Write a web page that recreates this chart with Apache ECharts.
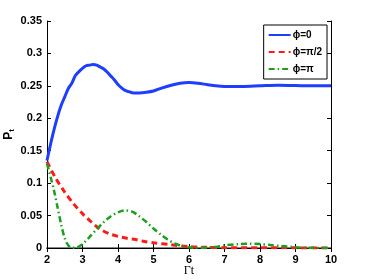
<!DOCTYPE html>
<html><head><meta charset="utf-8">
<script src="https://cdn.jsdelivr.net/npm/echarts@6/dist/echarts.min.js"></script>
<style>html,body{margin:0;padding:0;background:#fff}#c{width:366px;height:280px}</style>
</head><body><div id="c"></div>
<script>
const xTicks = [2,3,4,5,6,7,8,9,10];
const yTicks = [0,0.05,0.1,0.15,0.2,0.25,0.3,0.35];
const phi0 = [[2,0.135],[2.1,0.16],[2.2,0.183],[2.3,0.203],[2.4,0.22],[2.5,0.233],[2.6,0.246],[2.7,0.254],[2.8,0.266],[2.9,0.272],[3.0,0.277],[3.1,0.281],[3.2,0.282],[3.3,0.283],[3.4,0.282],[3.5,0.279],[3.6,0.276],[3.7,0.271],[3.8,0.265],[3.9,0.259],[4.0,0.252],[4.1,0.247],[4.2,0.243],[4.3,0.241],[4.4,0.2395],[4.5,0.239],[4.6,0.239],[4.8,0.240],[5.0,0.242],[5.25,0.247],[5.5,0.251],[5.75,0.254],[6.0,0.255],[6.25,0.254],[6.5,0.252],[6.75,0.250],[7.0,0.249],[7.5,0.249],[8.0,0.250],[8.5,0.251],[9.0,0.2505],[9.5,0.250],[10,0.250]];
const phiHalf = [[2,0.133],[2.25,0.107],[2.5,0.086],[2.75,0.068],[3.0,0.053],[3.25,0.040],[3.5,0.029],[3.75,0.022],[4.0,0.018],[4.25,0.015],[4.5,0.013],[4.75,0.010],[5.0,0.008],[5.5,0.005],[6.0,0.002],[6.5,0.001],[7.0,0.0005],[8.0,0.0003],[9.0,0.0002],[10,0.0001]];
const phiPi = [[2,0.13],[2.1,0.11],[2.2,0.088],[2.3,0.062],[2.4,0.036],[2.5,0.015],[2.6,0.004],[2.7,0.0005],[2.8,0.0003],[2.9,0.002],[3.0,0.006],[3.2,0.017],[3.4,0.029],[3.6,0.040],[3.8,0.049],[4.0,0.055],[4.2,0.058],[4.4,0.056],[4.6,0.049],[4.8,0.040],[5.0,0.030],[5.2,0.021],[5.4,0.013],[5.6,0.007],[5.8,0.003],[6.0,0.001],[6.2,0.0003],[6.5,0.0008],[6.8,0.002],[7.0,0.004],[7.4,0.006],[7.7,0.0066],[8.0,0.006],[8.3,0.0045],[8.6,0.003],[9.0,0.0012],[9.4,0.0003],[10,0.0001]];
const seriesNames = ['ϕ=0','ϕ=π/2','ϕ=π'];

const chart = echarts.init(document.getElementById('c'));
const lbl = {fontFamily:'Liberation Sans', fontWeight:'bold', fontSize:11, color:'#000'};
chart.setOption({
  animation:false,
  grid:{left:47,right:35,top:21,bottom:32,show:false,containLabel:false,outerBoundsMode:'none'},
  legend:{
    right:39, top:25, orient:'vertical', itemWidth:22, itemHeight:10, itemGap:7,
    padding:[5,5,5,4], borderColor:'#000', borderWidth:1, backgroundColor:'#fff',
    itemStyle:{opacity:0},
    textStyle:{fontFamily:'Liberation Sans', fontWeight:'bold', fontSize:10, color:'#000', padding:[0,0,0,-3]},
    data:seriesNames
  },
  xAxis:[{
    type:'value', min:2, max:10, interval:1,
    axisLine:{show:true, onZero:false, lineStyle:{color:'#888', width:2}},
    axisTick:{show:true, inside:true, length:4, lineStyle:{color:'#000'}},
    axisLabel:Object.assign({margin:6}, lbl),
    splitLine:{show:false},
    name:'Γt', nameLocation:'middle', nameGap:17, nameMoveOverlap:false,
    nameTextStyle:{fontFamily:'Liberation Serif', fontSize:12, color:'#000'}
  },{
    type:'value', min:2, max:10, interval:1, position:'top',
    axisLine:{show:true, lineStyle:{color:'#000'}},
    axisTick:{show:true, inside:true, length:4, lineStyle:{color:'#000'}},
    axisLabel:{show:false}, splitLine:{show:false}
  }],
  yAxis:[{
    type:'value', min:0, max:0.35, interval:0.05,
    axisLine:{show:true, lineStyle:{color:'#000'}},
    axisTick:{show:true, inside:true, length:4, lineStyle:{color:'#000'}},
    axisLabel:Object.assign({margin:5, formatter:v=>String(+v.toFixed(2))}, lbl),
    splitLine:{show:false},
    name:'{p|P}{s|t}', nameLocation:'middle', nameGap:31, nameRotate:90, nameMoveOverlap:false,
    nameTextStyle:{rich:{
      p:{fontFamily:'Liberation Sans', fontWeight:'bold', fontSize:12, color:'#000'},
      s:{fontFamily:'Liberation Sans', fontWeight:'bold', fontSize:8, color:'#000', verticalAlign:'bottom', padding:[6,0,0,0]}
    }}
  },{
    type:'value', min:0, max:0.35, interval:0.05, position:'right',
    axisLine:{show:true, lineStyle:{color:'#000'}},
    axisTick:{show:true, inside:true, length:4, lineStyle:{color:'#000'}},
    axisLabel:{show:false}, splitLine:{show:false}
  }],
  series:[
    {name:seriesNames[0], type:'line', data:phi0, smooth:0.3, showSymbol:false, symbol:'none',
     lineStyle:{color:'#1f3dff', width:3}, itemStyle:{color:'#1f3dff'}},
    {name:seriesNames[1], type:'line', data:phiHalf, smooth:0.3, showSymbol:false, symbol:'none',
     lineStyle:{color:'#ff1a1a', width:3, type:[6,4]}, itemStyle:{color:'#ff1a1a'}},
    {name:seriesNames[2], type:'line', data:phiPi, smooth:0.3, showSymbol:false, symbol:'none',
     lineStyle:{color:'#1aa01a', width:2.5, type:[6,3,1.5,3]}, itemStyle:{color:'#1aa01a'}}
  ]
});
</script></body></html>
